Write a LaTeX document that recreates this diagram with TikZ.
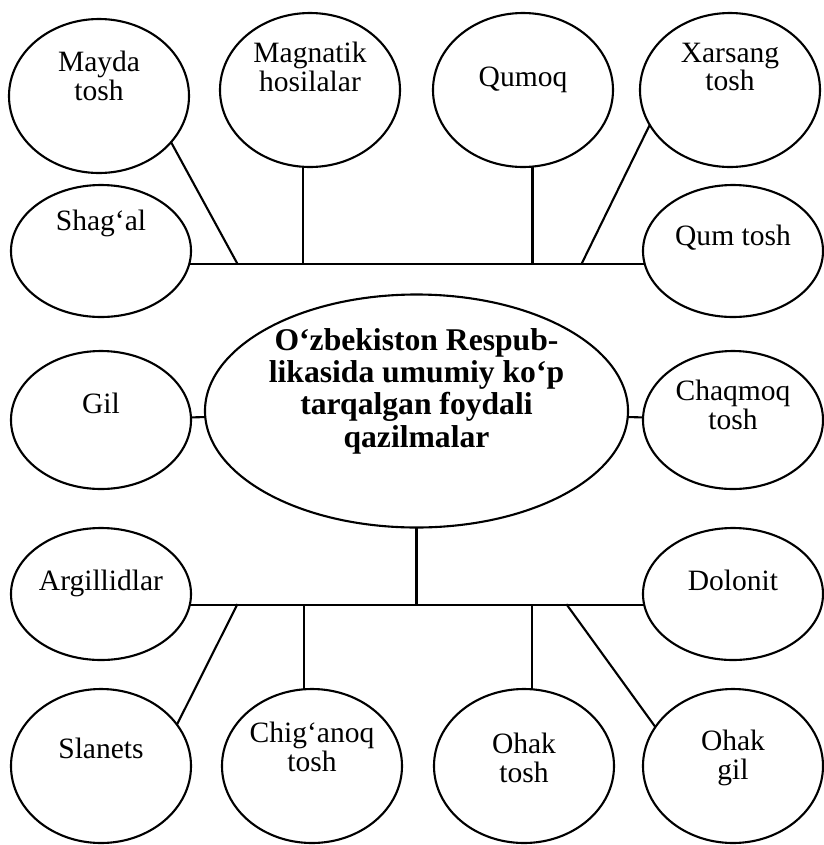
\documentclass[tikz,border=0pt]{standalone}
\usepackage{fontspec}
\setmainfont{Liberation Serif}
\usetikzlibrary{shapes.geometric, calc}
\tikzset{
  % side ovals — one kind for all the minerals
  oval/.style={
    ellipse, draw=black, line width=1.5pt,
    minimum width=45mm, minimum height=38.5mm, inner sep=0pt
  },
  ovalS/.style={oval, minimum height=33mm},   % the short ones (rows 2 & 4)
  ovalM/.style={oval, minimum height=34.5mm}, % Gil / Chaqmoq
  %
  % the big one in the middle
  hub/.style={
    ellipse, draw=black, line width=1.5pt,
    minimum width=105.75mm, minimum height=58.25mm, inner sep=0pt
  },
  % texts inside the ovals
  txt/.style={align=center, font=\fontsize{21}{20.5}\selectfont},
  hubtxt/.style={align=center, font=\bfseries\fontsize{22.5}{23}\selectfont},
  % connectors
  link/.style={line width=1.5pt, line cap=rect},
}

\begin{document}
\begin{tikzpicture}[x=0.25mm, y=-0.25mm]

  \useasboundingbox (0,0) rectangle (824,845);

  %% ── Centre ────────────────────────────────────────────────────────────────
  \node[hub, label={[hubtxt, yshift=5mm]center:O‘zbekiston Respub-\\likasida umumiy ko‘p\\tarqalgan foydali\\qazilmalar}]
    (uzb) at (416.5,411) {};

  %% ── Top row ───────────────────────────────────────────────────────────────
  \node[oval, label={[txt, yshift=5mm]center:Mayda\\tosh}]         (mayda)    at ( 99, 96) {};
  \node[oval, label={[txt, yshift=5.75mm]center:Magnatik\\hosilalar}] (magnatik) at (310, 90) {};
  \node[oval, label={[txt, yshift=2.5mm]center:Qumoq}]             (qumoq)    at (523, 90) {};
  \node[oval, label={[txt, yshift=5.75mm]center:Xarsang\\tosh}]    (xarsang)  at (730, 90) {};

  \node[ovalS, label={[txt, yshift=7mm]center:Shag‘al}]            (shagal)   at (101,251) {};
  \node[ovalS, label={[txt, yshift=3.25mm]center:Qum tosh}]        (qumtosh)  at (733,251) {};

  %% ── Middle row ────────────────────────────────────────────────────────────
  \node[ovalM, label={[txt, yshift=4.25mm]center:Gil}]             (gil)      at (101,420) {};
  \node[ovalM, label={[txt, yshift=3.75mm]center:Chaqmoq\\tosh}]   (chaqmoq)  at (733,420) {};

  %% ── Bottom rows ───────────────────────────────────────────────────────────
  \node[ovalS, label={[txt, yshift=2.75mm]center:Argillidlar}]     (argill)   at (101,594) {};
  \node[ovalS, label={[txt, yshift=3.5mm]center:Dolonit}]          (dolonit)  at (733,594) {};

  \node[oval, label={[txt, yshift=4.5mm]center:Slanets}]           (slanets)  at (101,766) {};
  \node[oval, label={[txt, yshift=4.75mm]center:Chig‘anoq\\tosh}]  (chiganoq) at (312,766) {};
  \node[oval, label={[txt, yshift=2mm]center:Ohak\\tosh}]          (ohaktosh) at (524,766) {};
  \node[oval, label={[txt, yshift=2mm]center:Ohak\\gil}]           (ohakgil)  at (733,766) {};

  %% ── Bus points ────────────────────────────────────────────────────────────
  \coordinate (topbus) at (417,263);
  \coordinate (botbus) at (417,605);
  \coordinate (tl) at (237,263);
  \coordinate (tr) at (582,263);
  \coordinate (bl) at (237,605);
  \coordinate (br) at (567,605);

  %% ── Upper connectors ──────────────────────────────────────────────────────
  \draw[link] (shagal.-8) -- (qumtosh.188);
  \draw[link] (magnatik.-95) -- (magnatik.-95 |- topbus);
  \draw[link] (qumoq.-83) -- (qumoq.-83 |- topbus);
  \draw[link] (mayda.-33) -- (tl);
  \draw[link] (xarsang.204) -- (tr);

  %% ── Side connectors ───────────────────────────────────────────────────────
  \draw[link] (gil) -- (uzb);
  \draw[link] (chaqmoq) -- (uzb);

  %% ── Lower connectors ──────────────────────────────────────────────────────
  \draw[link] (uzb.south) -- (uzb.south |- botbus);
  \draw[link] (argill.-7) -- (dolonit.187);
  \draw[link] (chiganoq.96) -- (chiganoq.96 |- botbus);
  \draw[link] (ohaktosh.84) -- (ohaktosh.84 |- botbus);
  \draw[link] (slanets.29) -- (bl);
  \draw[link] (ohakgil.153) -- (br);

\end{tikzpicture}
\end{document}
